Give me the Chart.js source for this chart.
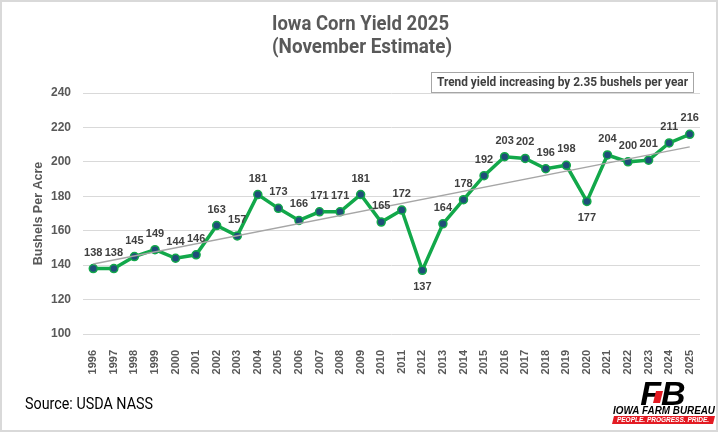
<!DOCTYPE html>
<html>
<head>
<meta charset="utf-8">
<title>Iowa Corn Yield 2025</title>
<script src="https://cdn.jsdelivr.net/npm/chart.js@4.4.1/dist/chart.umd.min.js"></script>
<style>
    html, body { margin: 0; padding: 0; background: #fff; }
    #wrap { position: relative; width: 720px; height: 433px; }
</style>
</head>
<body>
<div id="wrap"><canvas id="YieldChart" width="720" height="433"></canvas></div>
<script>
// data
var years = ['1996', '1997', '1998', '1999', '2000', '2001', '2002', '2003', '2004', '2005',
    '2006', '2007', '2008', '2009', '2010', '2011', '2012', '2013', '2014', '2015',
    '2016', '2017', '2018', '2019', '2020', '2021', '2022', '2023', '2024', '2025'];
var yieldValues = [138, 138, 145, 149, 144, 146, 163, 157, 181, 173,
    166, 171, 171, 181, 165, 172, 137, 164, 178, 192,
    203, 202, 196, 198, 177, 204, 200, 201, 211, 216];
var trendYears = ['1996', '2025'];
var trendValues = [140.6, 208.7];
var yTicks = [100, 120, 140, 160, 180, 200, 220, 240];
var labelBelow = ['2012', '2020'];

var titleLines = ['Iowa Corn Yield 2025', '(November Estimate)'];
var trendNote = 'Trend yield increasing by 2.35 bushels per year';
var sourceNote = 'Source: USDA NASS';

var NARROW = "Roboto, 'Liberation Sans', sans-serif";
var SANS = "'Liberation Sans', Arial, sans-serif";
var GREY = '#595959';

// point labels
var pointLabels = {
    id: 'pointLabels',
    afterDatasetsDraw: function (chart) {
        var ctx = chart.ctx;
        var meta = chart.getDatasetMeta(1);
        ctx.save();
        ctx.font = 'bold 11px ' + SANS;
        ctx.fillStyle = '#404040';
        ctx.textAlign = 'center';
        ctx.textBaseline = 'middle';
        meta.data.forEach(function (pt, i) {
            var below = labelBelow.indexOf(years[i]) >= 0;
            ctx.fillText(String(yieldValues[i]), pt.x, below ? pt.y + 17 : pt.y - 16);
        });
        ctx.restore();
    }
};

// title, trend note, source, logo, frame
var decorations = {
    id: 'decorations',
    afterDraw: function (chart) {
        var ctx = chart.ctx;
        ctx.save();

        ctx.strokeStyle = '#d9d9d9';
        ctx.lineWidth = 2;
        ctx.strokeRect(1, 1, 716, 430);

        // narrow look: squeeze text with maxWidth
        ctx.fillStyle = GREY;
        ctx.textAlign = 'center';
        ctx.textBaseline = 'middle';
        ctx.font = 'bold 21px ' + NARROW;
        ctx.fillText(titleLines[0], 360.5, 25, 177);
        ctx.fillText(titleLines[1], 362, 48, 180);

        ctx.strokeStyle = '#a6a6a6';
        ctx.lineWidth = 1;
        ctx.strokeRect(431.5, 72.5, 262, 20);
        ctx.fillStyle = '#404040';
        ctx.font = 'bold 13px ' + NARROW;
        ctx.fillText(trendNote, 562.5, 83, 251);

        ctx.textAlign = 'left';
        ctx.fillStyle = '#000';
        ctx.font = '17px ' + NARROW;
        ctx.fillText(sourceNote, 25, 405, 128);

        // Iowa Farm Bureau logo (approximation)
        ctx.fillStyle = '#000';
        ctx.textAlign = 'center';
        ctx.textBaseline = 'alphabetic';
        ctx.font = 'italic bold 34px ' + SANS;
        ctx.fillText('FB', 663, 405, 50);
        ctx.fillStyle = '#e31b23';
        ctx.beginPath();
        ctx.moveTo(656, 391);
        ctx.lineTo(663, 391);
        ctx.lineTo(660, 403);
        ctx.lineTo(653, 403);
        ctx.closePath();
        ctx.fill();
        ctx.fillStyle = '#000';
        ctx.textBaseline = 'middle';
        ctx.font = 'italic bold 10px ' + SANS;
        ctx.fillText('IOWA FARM BUREAU', 664, 411, 102);
        ctx.fillStyle = '#e31b23';
        ctx.beginPath();
        ctx.moveTo(614, 416);
        ctx.lineTo(715, 416);
        ctx.lineTo(713, 424);
        ctx.lineTo(612, 424);
        ctx.closePath();
        ctx.fill();
        ctx.fillStyle = '#fff';
        ctx.font = 'italic bold 6.5px ' + SANS;
        ctx.fillText('PEOPLE. PROGRESS. PRIDE.', 663, 420.5, 96);

        ctx.restore();
    }
};

var YieldChart = new Chart(
    document.getElementById('YieldChart'), {
    type: 'line',
    data: {
        labels: years,
        datasets: [{
            label: 'Trend',
            data: trendYears.map(function (y, i) { return { x: y, y: trendValues[i] }; }),
            borderColor: '#a6a6a6',
            borderWidth: 1.5,
            pointRadius: 0,
            fill: false
        }, {
            label: 'Bushels Per Acre',
            data: yieldValues,
            borderColor: '#12a84a',
            borderWidth: 3.5,
            pointRadius: 4,
            pointBackgroundColor: '#1f4e79',
            pointBorderColor: '#12a84a',
            pointBorderWidth: 1.5,
            tension: 0,
            fill: false
        }]
    },
    options: {
        responsive: false,
        animation: false,
        devicePixelRatio: 1,
        layout: {
            padding: { top: 93, left: 0, right: 20, bottom: 0 }
        },
        plugins: {
            legend: { display: false },
            tooltip: { enabled: false },
            title: { display: false }
        },
        scales: {
            x: {
                type: 'category',
                offset: true,
                grid: { display: false },
                border: { display: false },
                ticks: {
                    minRotation: 90,
                    maxRotation: 90,
                    autoSkip: false,
                    padding: 8,
                    color: GREY,
                    font: { family: SANS, size: 11, weight: 'bold' }
                },
                afterFit: function (scale) { scale.height = 99; }
            },
            y: {
                min: 100,
                max: 240,
                afterBuildTicks: function (scale) {
                    scale.ticks = yTicks.map(function (v) { return { value: v }; });
                },
                grid: { color: '#d9d9d9', lineWidth: 1, drawTicks: false },
                border: { display: false },
                ticks: {
                    padding: 12,
                    color: GREY,
                    font: { family: SANS, size: 12, weight: 'bold' }
                },
                title: {
                    display: true,
                    text: 'Bushels Per Acre',
                    color: GREY,
                    padding: { top: 31, bottom: 0 },
                    font: { family: SANS, size: 12.5, weight: 'bold' }
                },
                afterFit: function (scale) { scale.width = 83; }
            }
        }
    },
    plugins: [pointLabels, decorations]
});
</script>
</body>
</html>
